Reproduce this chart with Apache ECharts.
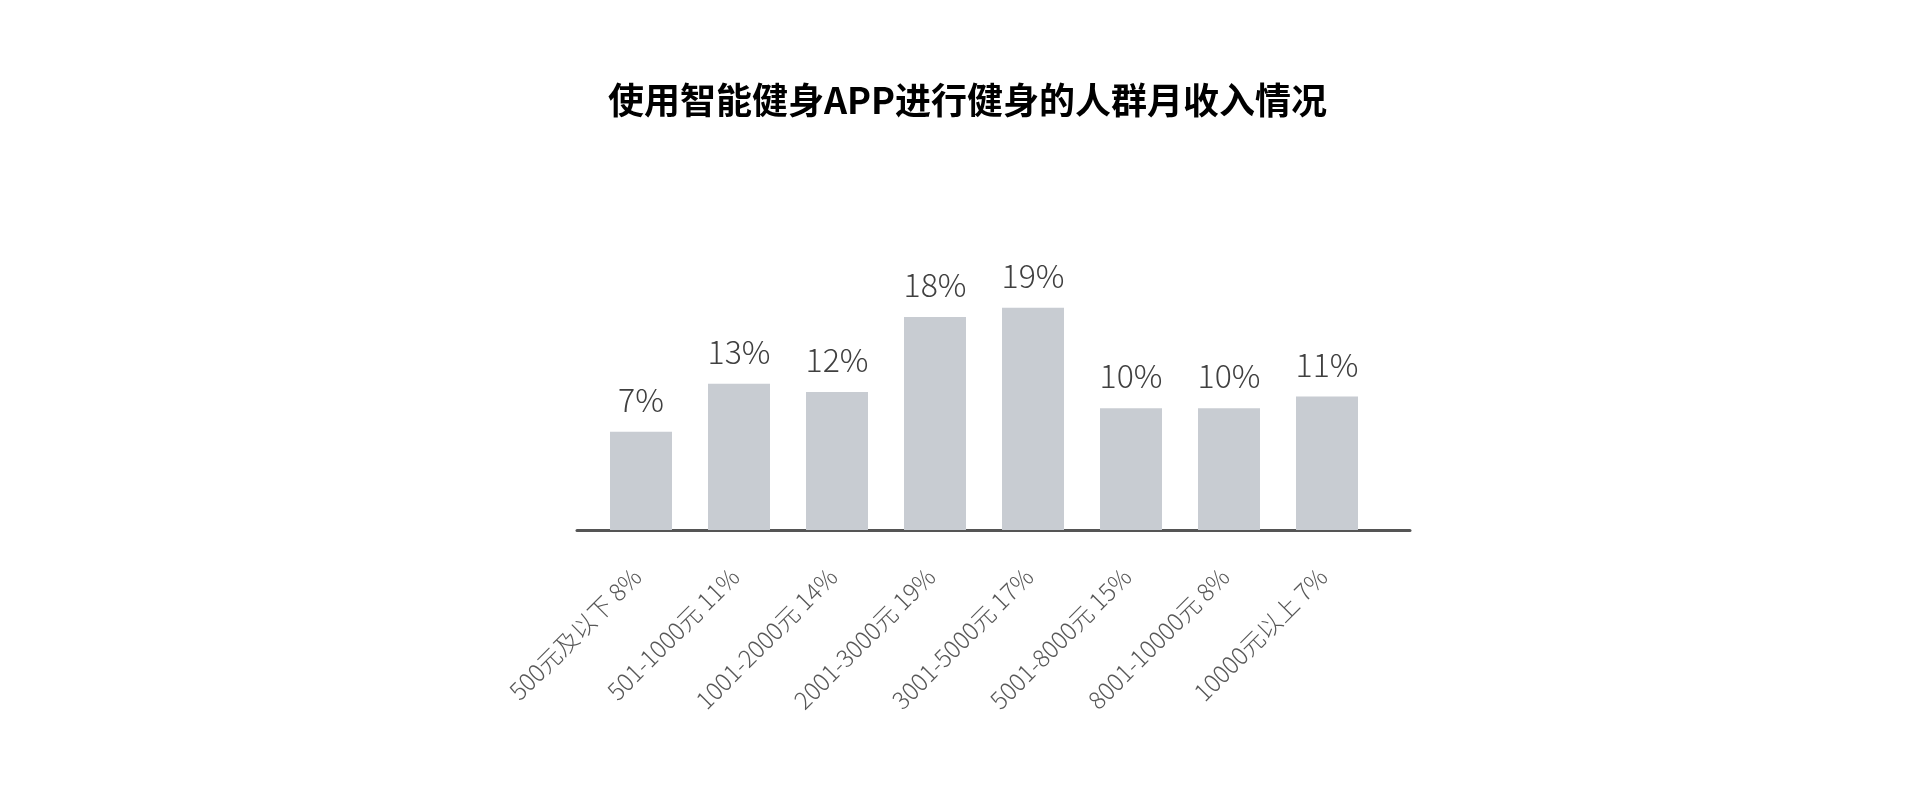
<!DOCTYPE html>
<html style="height: 100%">
<head>
    <meta charset="UTF-8">
    <script src="https://cdn.jsdelivr.net/npm/echarts@6/dist/echarts.min.js"></script>
</head>
<body style="margin: 0;background: #FFF;height: 100%;overflow: hidden;">
<div id="chart-main" style="width: 1919px;height: 790px;"></div>

<script>
    // 月收入区间（横轴文字，原图自带百分比）
    var categories = ['500元及以下 8%', '501-1000元 11%', '1001-2000元 14%', '2001-3000元 19%',
        '3001-5000元 17%', '5001-8000元 15%', '8001-10000元 8%', '10000元以上 7%'];
    // 柱子高度（按图上量得）
    var barValues = [8.4, 12.5, 11.8, 18.2, 19.0, 10.4, 10.4, 11.4];
    // 柱顶标注的百分比
    var topLabels = [7, 13, 12, 18, 19, 10, 10, 11];

    var dom = document.getElementById("chart-main");
    var myChart = echarts.init(dom);

    var seriesData = [];
    for (var i = 0; i < barValues.length; i++) {
        seriesData.push({value: barValues[i], pct: topLabels[i]});
    }

    var option = {
        animation: false,
        title: {
            text: '使用智能健身APP进行健身的人群月收入情况',
            left: 603,
            top: 77,
            textStyle: {
                fontFamily: 'Noto Sans CJK SC',
                fontSize: 36,
                fontWeight: 'bold',
                color: '#000'
            }
        },
        grid: [
            {left: 592, width: 784, top: 296, bottom: 260},
            // 只用来画那条更长的底线
            {left: 577, width: 833, top: 296, bottom: 260}
        ],
        xAxis: [
            {
                type: 'category',
                gridIndex: 0,
                data: categories,
                axisLine: {show: false},
                axisTick: {show: false},
                axisLabel: {
                    rotate: 45,
                    margin: 38,
                    interval: 0,
                    padding: [0, 6, 0, 0],
                    fontFamily: 'Noto Sans CJK SC',
                    fontWeight: 300,
                    fontSize: 24,
                    color: '#585858'
                }
            },
            {
                type: 'category',
                gridIndex: 1,
                data: categories,
                axisLine: {show: true, lineStyle: {color: '#555', width: 3}},
                axisTick: {show: false},
                axisLabel: {show: false}
            }
        ],
        yAxis: [
            {type: 'value', gridIndex: 0, min: 0, max: 20, show: false},
            {type: 'value', gridIndex: 1, min: 0, max: 20, show: false}
        ],
        series: [
            {
                type: 'bar',
                xAxisIndex: 0,
                yAxisIndex: 0,
                barWidth: 62,
                data: seriesData,
                itemStyle: {color: '#c8ccd2'},
                label: {
                    show: true,
                    position: 'top',
                    distance: 16,
                    fontFamily: 'Noto Sans CJK SC',
                    fontWeight: 300,
                    fontSize: 32,
                    color: '#404040',
                    formatter: function (p) {
                        return p.data.pct + '%';
                    }
                }
            }
        ]
    };

    myChart.setOption(option, true);
</script>
</body>
</html>
